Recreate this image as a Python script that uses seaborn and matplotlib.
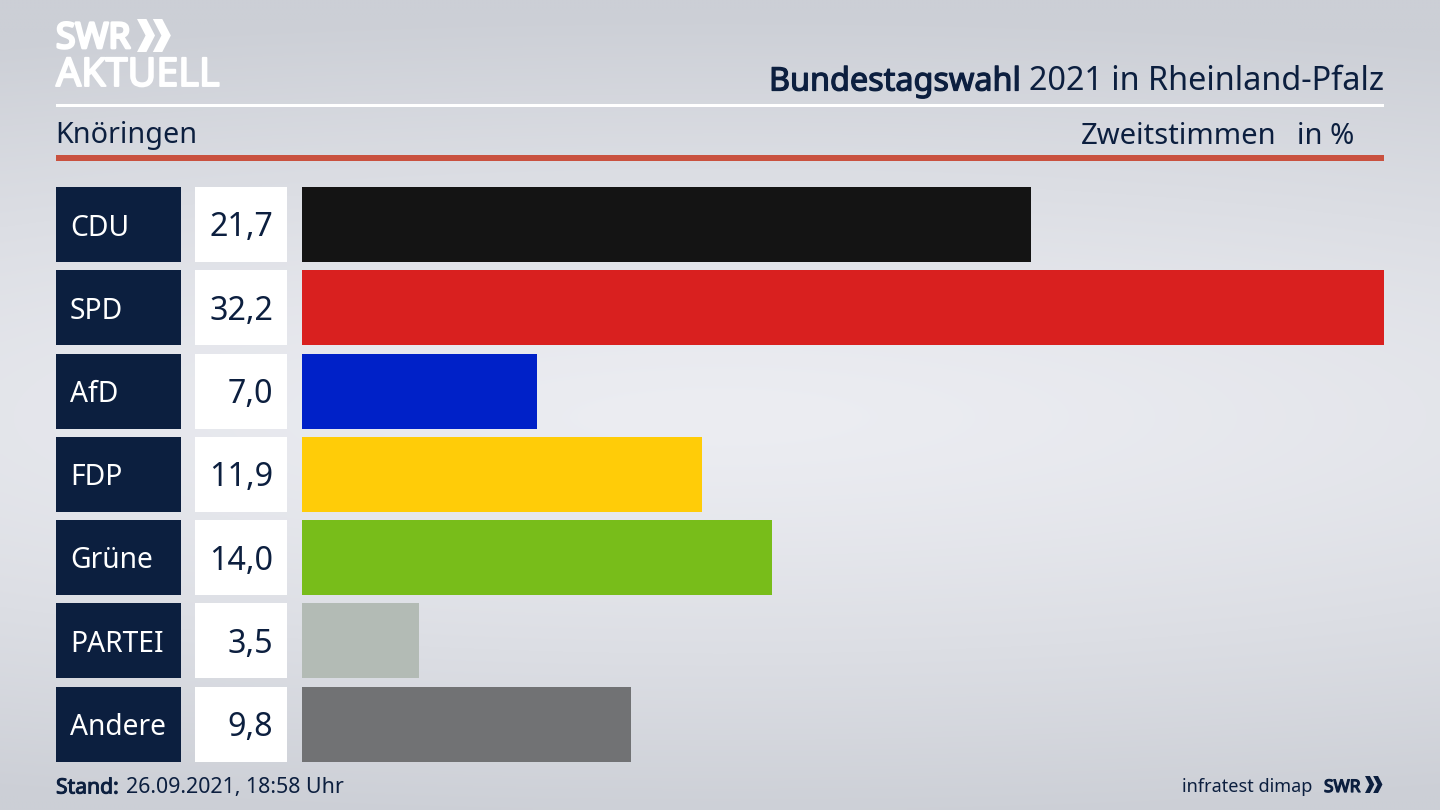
"""Bundestagswahl 2021, Zweitstimmen in Knöringen."""

import matplotlib
matplotlib.use("Agg")
import matplotlib.patheffects as pe
import matplotlib.pyplot as plt
import numpy as np
import pandas as pd
import seaborn as sns
from matplotlib.patches import Polygon, Rectangle

parties = ["CDU", "SPD", "AfD", "FDP", "Grüne", "PARTEI", "Andere"]
shares = [21.7, 32.2, 7.0, 11.9, 14.0, 3.5, 9.8]
share_labels = ["21,7", "32,2", "7,0", "11,9", "14,0", "3,5", "9,8"]
colors = ["#141414", "#d9201f", "#0021c8", "#ffcc08", "#78bd1a", "#b3bbb5", "#717274"]

NAVY = "#0c1f3f"
WIDTH, HEIGHT = 1440, 810
PITCH = 83.25

sns.set_theme(style="white")
plt.rcParams["font.family"] = ["Noto Sans", "DejaVu Sans"]

fig = plt.figure(figsize=(WIDTH / 100, HEIGHT / 100), dpi=100)

# full figure axes in pixel coordinates for background and furniture
bg = fig.add_axes([0, 0, 1, 1])
bg.set_xlim(0, WIDTH)
bg.set_ylim(HEIGHT, 0)
bg.axis("off")

xx, yy = np.meshgrid(np.linspace(-1, 1, 360), np.linspace(-1, 1, 200))
dist = np.clip(np.sqrt((xx * 0.35) ** 2 + ((yy - 0.03) * 1.0) ** 2), 0, 1)
top = np.array([236, 237, 242]) / 255
edge = np.array([204, 207, 214]) / 255
grad = top + (edge - top) * dist[..., None] ** 1.3
bg.imshow(grad, extent=(0, WIDTH, HEIGHT, 0), aspect="auto", interpolation="bilinear", zorder=0)


def heavy(color, width=0.9):
    # the installed Noto Sans has no bold cut, so thicken the outline
    return [pe.withStroke(linewidth=width, foreground=color)]


# header rules
bg.add_patch(Rectangle((56, 104), 1328, 3, color="white", lw=0))
bg.add_patch(Rectangle((56, 155), 1328, 5.5, color="#c9513f", lw=0))

# logo
bg.text(56, 39, "SWR", color="white", fontsize=25.5, va="center", ha="left",
        path_effects=heavy("white", 2.0))
bg.text(56, 76, "AKTUELL", color="white", fontsize=28.4, va="center", ha="left",
        path_effects=heavy("white", 1.4))


def chevrons(x, y, h, color):
    w = h * 0.52
    for off in (0, h * 0.48):
        pts = [(x + off, y), (x + off + w * 0.55, y), (x + off + w * 1.05, y + h / 2),
               (x + off + w * 0.55, y + h), (x + off, y + h), (x + off + w * 0.5, y + h / 2)]
        bg.add_patch(Polygon(pts, closed=True, color=color, lw=0))


chevrons(137, 19, 33, "white")

# titles
bg.text(769, 82, "Bundestagswahl", color=NAVY, fontsize=23.3, va="center", ha="left",
        path_effects=heavy(NAVY))
bg.text(1384, 82, "2021 in Rheinland-Pfalz", color=NAVY, fontsize=23.3, va="center", ha="right")
bg.text(55, 136, "Knöringen", color=NAVY, fontsize=20.7, va="center", ha="left")
bg.text(1277, 136, "Zweitstimmen", color=NAVY, fontsize=21, va="center", ha="right")
bg.text(1354, 136, "in %", color=NAVY, fontsize=21, va="center", ha="right")

# name and value boxes
for i, (party, label) in enumerate(zip(parties, share_labels)):
    y0 = 187 + PITCH * i
    bg.add_patch(Rectangle((56, y0), 125, 75, color=NAVY, lw=0))
    bg.add_patch(Rectangle((195, y0), 92, 75, color="white", lw=0))
    bg.text(70, y0 + 41, party, color="white", fontsize=20.3, va="center", ha="left")
    bg.text(273, y0 + 41, label, color=NAVY, fontsize=23.2, va="center", ha="right")

# footer
bg.text(56, 788, "Stand:", color=NAVY, fontsize=15.2, va="center", ha="left",
        path_effects=heavy(NAVY, 0.7))
bg.text(126, 788, "26.09.2021, 18:58 Uhr", color=NAVY, fontsize=15.4, va="center", ha="left")
bg.text(1312, 787, "infratest dimap", color=NAVY, fontsize=13, va="center", ha="right")
bg.text(1324, 787, "SWR", color=NAVY, fontsize=12.5, va="center", ha="left",
        path_effects=heavy(NAVY, 0.9))
chevrons(1365, 776, 17, NAVY)

# bars
df = pd.DataFrame({"party": parties, "share": shares})
span = PITCH * 7
bar_top = 187 + 37.5 - PITCH / 2
ax = fig.add_axes([301.5 / WIDTH, 1 - (bar_top + span) / HEIGHT, 1082.5 / WIDTH, span / HEIGHT])
ax.patch.set_alpha(0)
sns.barplot(data=df, y="party", x="share", hue="party", palette=colors, order=parties,
            hue_order=parties, width=75 / PITCH, legend=False, saturation=1, linewidth=0, ax=ax)
ax.set_xlim(0, max(shares))
ax.set_ylim(6.5, -0.5)
ax.axis("off")

fig.savefig("out.png", dpi=100)
